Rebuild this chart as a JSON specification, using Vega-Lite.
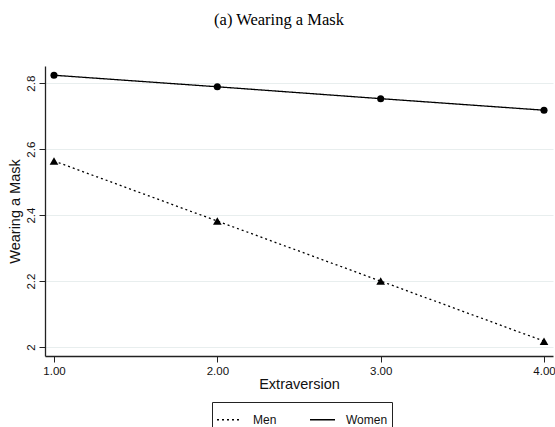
{
  "$schema": "https://vega.github.io/schema/vega-lite/v6.json",
  "width": 508,
  "height": 290,
  "autosize": {"type": "none"},
  "padding": {"left": 45, "top": 66, "right": 2, "bottom": 71},
  "background": "white",
  "title": {
    "text": "(a) Wearing a Mask",
    "font": "Liberation Serif",
    "fontSize": 16.5,
    "fontWeight": "normal",
    "color": "black",
    "offset": 38,
    "dx": -20,
    "anchor": "middle"
  },
  "data": {
    "values": [
      {"extraversion": 1, "mask": 2.564, "sex": "Men"},
      {"extraversion": 2, "mask": 2.382, "sex": "Men"},
      {"extraversion": 3, "mask": 2.200, "sex": "Men"},
      {"extraversion": 4, "mask": 2.018, "sex": "Men"},
      {"extraversion": 1, "mask": 2.824, "sex": "Women"},
      {"extraversion": 2, "mask": 2.789, "sex": "Women"},
      {"extraversion": 3, "mask": 2.753, "sex": "Women"},
      {"extraversion": 4, "mask": 2.718, "sex": "Women"}
    ]
  },
  "encoding": {
    "x": {
      "field": "extraversion",
      "type": "quantitative",
      "scale": {"domain": [0.945, 4.055], "nice": false, "zero": false},
      "axis": {
        "values": [1, 2, 3, 4],
        "format": ".2f",
        "title": "Extraversion",
        "grid": false,
        "domainColor": "#222",
        "domainWidth": 1.3,
        "tickColor": "#222",
        "tickSize": 6,
        "tickWidth": 1,
        "labelPadding": 3,
        "labelFont": "Liberation Sans",
        "labelFontSize": 11.5,
        "labelColor": "#111",
        "titleFont": "Liberation Sans",
        "titleFontSize": 14.5,
        "titleFontWeight": "normal",
        "titleColor": "#111",
        "titlePadding": 1
      }
    },
    "y": {
      "field": "mask",
      "type": "quantitative",
      "scale": {"domain": [1.973, 2.852], "nice": false, "zero": false},
      "axis": {
        "values": [2, 2.2, 2.4, 2.6, 2.8],
        "format": "~g",
        "title": "Wearing a Mask",
        "grid": true,
        "gridColor": "#e8eeee",
        "gridWidth": 1,
        "domainColor": "#222",
        "domainWidth": 1.3,
        "tickColor": "#222",
        "tickSize": 6,
        "tickWidth": 1,
        "labelAngle": -90,
        "labelAlign": "center",
        "labelBaseline": "alphabetic",
        "labelPadding": 5,
        "labelFont": "Liberation Sans",
        "labelFontSize": 11.5,
        "labelColor": "#111",
        "titleFont": "Liberation Sans",
        "titleFontSize": 14.5,
        "titleFontWeight": "normal",
        "titleColor": "#111",
        "titlePadding": 3
      }
    }
  },
  "layer": [
    {
      "mark": {"type": "line", "color": "black", "strokeWidth": 1.3},
      "encoding": {
        "strokeDash": {
          "field": "sex",
          "type": "nominal",
          "scale": {"domain": ["Men", "Women"], "range": [[2, 3], [1, 0]]}
        }
      }
    },
    {
      "transform": [{"filter": "datum.sex === 'Men'"}],
      "mark": {"type": "point", "filled": true, "color": "black", "opacity": 1, "size": 75},
      "encoding": {
        "shape": {
          "field": "sex",
          "type": "nominal",
          "scale": {"domain": ["Women", "Men"], "range": ["circle", "triangle-up"]},
          "legend": null
        }
      }
    },
    {
      "transform": [{"filter": "datum.sex === 'Women'"}],
      "mark": {"type": "point", "filled": true, "color": "black", "opacity": 1, "size": 50},
      "encoding": {
        "shape": {
          "field": "sex",
          "type": "nominal",
          "scale": {"domain": ["Women", "Men"], "range": ["circle", "triangle-up"]},
          "legend": null
        }
      }
    }
  ],
  "config": {
    "view": {"stroke": null},
    "legend": {
      "orient": "none",
      "legendX": 167,
      "legendY": 336,
      "direction": "horizontal",
      "title": null,
      "padding": 4,
      "strokeColor": "#222",
      "fillColor": "white",
      "symbolSize": 625,
      "symbolStrokeWidth": 1.3,
      "symbolStrokeColor": "black",
      "labelOffset": 10,
      "columnPadding": 30,
      "labelFont": "Liberation Sans",
      "labelFontSize": 12,
      "labelColor": "#111"
    }
  }
}
